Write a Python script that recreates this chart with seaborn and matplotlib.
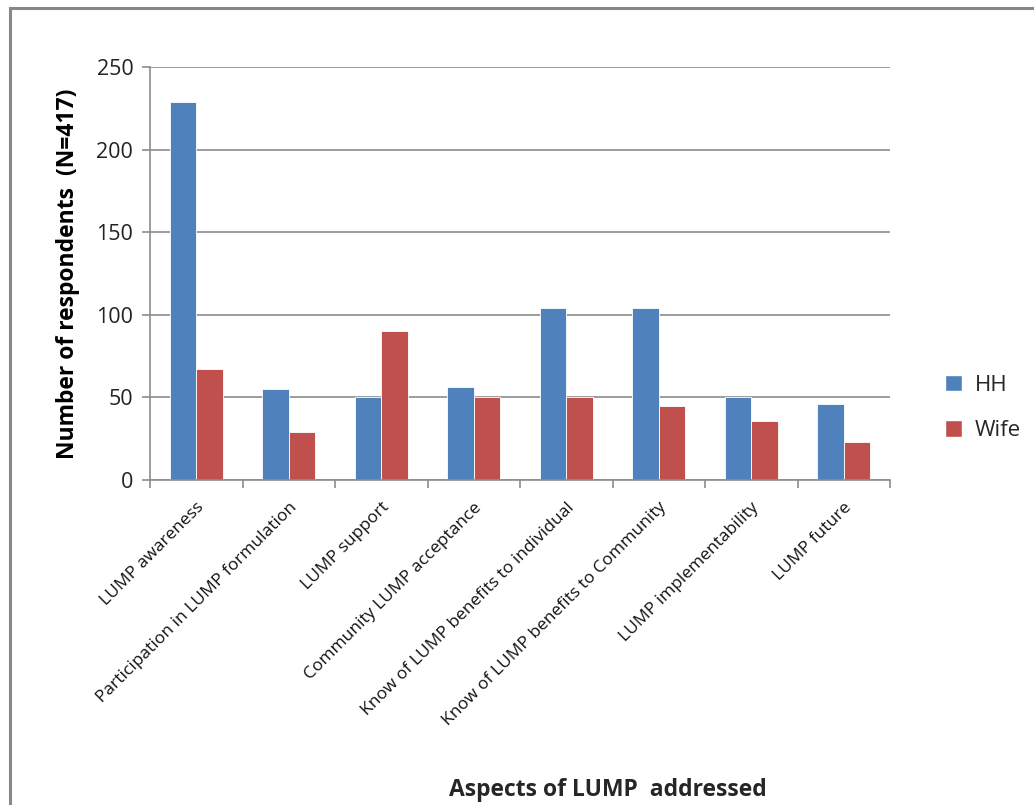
import matplotlib
matplotlib.use("Agg")
import matplotlib.pyplot as plt
import matplotlib.patches as mpatches
import seaborn as sns
import pandas as pd
import numpy as np

categories = [
    "LUMP awareness",
    "Participation in LUMP formulation",
    "LUMP support",
    "Community LUMP acceptance",
    "Know of LUMP benefits to individual",
    "Know of LUMP benefits to Community",
    "LUMP implementability",
    "LUMP future",
]
hh_values = [229, 55, 50, 56, 104, 104, 50, 46]
wife_values = [67, 29, 90, 50, 50, 45, 36, 23]
series_names = ["HH", "Wife"]
y_ticks = [0, 50, 100, 150, 200, 250]

df = pd.DataFrame({
    "aspect": categories * 2,
    "group": [series_names[0]] * len(categories) + [series_names[1]] * len(categories),
    "count": hh_values + wife_values,
})

sns.set_theme(style="white")
plt.rcParams["font.family"] = ["Open Sans", "DejaVu Sans"]

fig = plt.figure(figsize=(10.34, 8.05), dpi=100)
ax = fig.add_axes([150 / 1034, 1 - 480 / 805, 740 / 1034, 413 / 805])

colors = {"HH": "#4F81BD", "Wife": "#C0504D"}
sns.barplot(data=df, x="aspect", y="count", hue="group", order=categories,
            hue_order=series_names, palette=colors, width=0.57, gap=0,
            saturation=1, ax=ax, legend=False)
for p in ax.patches:
    p.set_edgecolor("white")
    p.set_linewidth(0.6)

ax.set_xlim(-0.5, len(categories) - 0.5)
ax.set_ylim(0, 250)
ax.set_yticks(y_ticks)
ax.set_yticklabels([str(v) for v in y_ticks], fontsize=15.5, color="#222222")
ax.yaxis.grid(True, color="#8c8c8c", linewidth=1.2)
ax.set_axisbelow(True)

# Category boundary ticks on the x axis
ax.set_xticks(np.arange(len(categories)))
ax.set_xticklabels(categories, rotation=45, ha="right", va="top",
                   rotation_mode="anchor", fontsize=12.5, color="#111111")
ax.set_xticks(np.arange(len(categories) + 1) - 0.5, minor=True)
ax.tick_params(axis="x", which="major", length=0, pad=14)
ax.tick_params(axis="x", which="minor", length=6, color="#8c8c8c", width=1.2,
               direction="out", bottom=True)
ax.tick_params(axis="y", which="major", length=6, color="#8c8c8c", width=1.2,
               direction="out", left=True, pad=6)

for side in ["top", "right"]:
    ax.spines[side].set_visible(False)
for side in ["left", "bottom"]:
    ax.spines[side].set_color("#8c8c8c")
    ax.spines[side].set_linewidth(1.2)

ax.set_xlabel("")
ax.set_ylabel("Number of respondents  (N=417)", fontsize=16.5, fontweight="bold",
              labelpad=12, color="black")

fig.text(608 / 1034, 1 - 790 / 805, "Aspects of LUMP  addressed", fontsize=16.5,
         fontweight="bold", ha="center", va="center")

handles = [mpatches.Patch(facecolor=colors[s], edgecolor="white", label=s)
           for s in series_names]
fig.legend(handles=handles, loc="center left", bbox_to_anchor=(925 / 1034, 1 - 408 / 805),
           frameon=False, fontsize=16, handlelength=0.75, handleheight=0.75,
           labelspacing=1.1, handletextpad=0.6)

# Outer chart frame
fig.patches.append(mpatches.Rectangle((10 / 1034, -0.05), 1.1, (805 - 8) / 805 + 0.05,
                                      transform=fig.transFigure, fill=False,
                                      edgecolor="#888888", linewidth=2.2))

fig.savefig("out.png", dpi=100, facecolor="white")
